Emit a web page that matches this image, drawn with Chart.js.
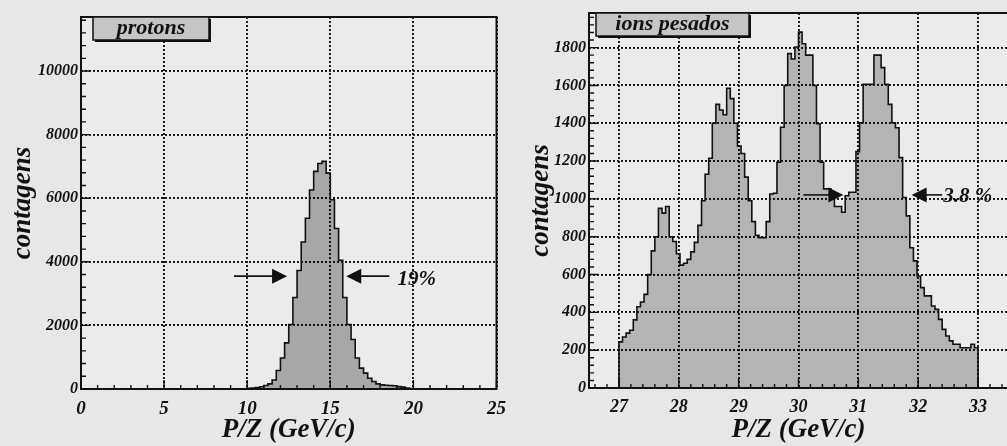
<!DOCTYPE html>
<html>
<head>
 <title>P/Z - protons e ions pesados</title>
 <script src="https://cdn.jsdelivr.net/npm/chart.js"></script>
 <style>
  body { margin: 0; background: #e7e7e7; overflow: hidden; width: 1007px; height: 446px; position: relative; }
  canvas { position: absolute; top: 0; }
  #left { left: 0; }
  #right { left: 503px; }
 </style>
</head>
<body>
 <canvas id="left" width="515" height="446"></canvas>
 <canvas id="right" width="510" height="446"></canvas>

 <script>
  // protons: bins of 0.25 GeV/c starting at 10 GeV/c
  const protonStart = 10;
  const protonBinWidth = 0.25;
  const protonCounts = [
   20, 30, 45, 70, 110, 160, 285, 580, 975, 1450,
   2030, 2880, 3725, 4625, 5370, 6260, 6845, 7090, 7160, 6790,
   5950, 5050, 4050, 2880, 2030, 1555, 975, 655, 500, 340,
   235, 160, 130, 120, 110, 100, 75, 60, 30, 15,
   10, 5, 5, 3
  ];
  const protonXTicks = [0, 5, 10, 15, 20, 25];
  const protonYTicks = [0, 2000, 4000, 6000, 8000, 10000];

  // ions pesados: bins of 0.06 GeV/c from 27 to 33 GeV/c
  const ionStart = 27;
  const ionBinWidth = 0.06;
  const ionCounts = [
   244, 270, 290, 305, 360, 430, 455, 495, 600, 725,
   800, 950, 925, 960, 800, 775, 710, 650, 660, 680,
   720, 770, 860, 990, 1130, 1215, 1400, 1500, 1470, 1445,
   1585, 1530, 1400, 1280, 1240, 1115, 990, 880, 808, 795,
   795, 880, 1026, 1030, 1194, 1379, 1600, 1768, 1740, 1803,
   1882, 1820, 1760, 1760, 1600, 1397, 1194, 1053, 1053, 1035,
   960, 960, 929, 1017, 1035, 1035, 1250, 1403, 1606, 1606,
   1606, 1760, 1760, 1694, 1606, 1500, 1403, 1376, 1218, 1007,
   910, 742, 672, 592, 531, 487, 487, 434, 416, 363,
   310, 275, 249, 231, 231, 213, 213, 213, 231, 213
  ];
  const ionXTicks = [27, 28, 29, 30, 31, 32, 33];
  const ionYTicks = [0, 200, 400, 600, 800, 1000, 1200, 1400, 1600, 1800];

  const serif = 'Liberation Serif';

  // outline of a histogram as step points (left bin edges)
  function histPoints(start, width, counts) {
   const pts = [{x: start, y: 0}];
   counts.forEach((c, i) => pts.push({x: start + i * width, y: c}));
   const end = start + counts.length * width;
   pts.push({x: end, y: counts[counts.length - 1]}, {x: end, y: 0});
   return pts;
  }

  const plotBg = {
   id: 'plotBg',
   beforeDraw(chart) {
    const {ctx, chartArea: a} = chart;
    ctx.save();
    ctx.fillStyle = '#ebebeb';
    ctx.fillRect(a.left, a.top, a.right - a.left, a.bottom - a.top);
    ctx.restore();
   }
  };

  // frame, inward ticks, label box and arrows
  const decor = {
   id: 'decor',
   afterDatasetsDraw(chart, args, o) {
    const {ctx, chartArea: a, scales: {x, y}} = chart;
    ctx.save();
    ctx.strokeStyle = '#111';
    ctx.lineWidth = 1.4;
    ctx.beginPath();
    const ticks = (scale, step, len) => {
     for (let k = Math.ceil(scale.min / step - 1e-6); k * step <= scale.max + 1e-6; k++) {
      const p = scale.getPixelForValue(k * step);
      if (scale.isHorizontal()) { ctx.moveTo(p, a.bottom); ctx.lineTo(p, a.bottom - len); }
      else { ctx.moveTo(a.left, p); ctx.lineTo(a.left + len, p); }
     }
    };
    ticks(x, o.xMinor, 4);
    ticks(y, o.yMinor, 5);
    ticks(x, o.xMajor, 9);
    ticks(y, o.yMajor, 9);
    ctx.stroke();

    ctx.lineWidth = 2;
    ctx.strokeRect(a.left, a.top, a.right - a.left, a.bottom - a.top);

    // label box with shadow
    const bx = a.left + o.box.dx, by = a.top, bw = o.box.w, bh = o.box.h;
    ctx.fillStyle = '#111';
    ctx.fillRect(bx + 2, by + 2, bw, bh);
    ctx.fillStyle = '#c5c5c5';
    ctx.fillRect(bx, by, bw, bh);
    ctx.lineWidth = 1.5;
    ctx.strokeRect(bx, by, bw, bh);
    ctx.fillStyle = '#111';
    ctx.font = 'italic bold 22px "' + serif + '"';
    ctx.textAlign = 'center';
    ctx.textBaseline = 'middle';
    ctx.fillText(o.box.text, bx + bw / 2, by + bh / 2);

    // arrows
    o.arrows.forEach(ar => {
     const x1 = x.getPixelForValue(ar.from), x2 = x.getPixelForValue(ar.to);
     const py = y.getPixelForValue(ar.y);
     const dir = Math.sign(x2 - x1);
     ctx.lineWidth = 1.6;
     ctx.beginPath();
     ctx.moveTo(x1, py);
     ctx.lineTo(x2 - dir * 10, py);
     ctx.stroke();
     ctx.beginPath();
     ctx.moveTo(x2, py);
     ctx.lineTo(x2 - dir * 15, py - 7.5);
     ctx.lineTo(x2 - dir * 15, py + 7.5);
     ctx.closePath();
     ctx.fill();
    });
    ctx.font = 'italic bold 21px "' + serif + '"';
    ctx.textAlign = 'left';
    ctx.fillText(o.note.text, x.getPixelForValue(o.note.x), y.getPixelForValue(o.note.y));
    ctx.restore();
   }
  };

  function makeChart(id, c) {
   const font = size => ({family: serif, size: size, style: 'italic', weight: 'bold'});
   return new Chart(document.getElementById(id), {
    type: 'line',
    data: {
     datasets: [{
      data: histPoints(c.start, c.binWidth, c.counts),
      stepped: true,
      fill: 'origin',
      borderColor: '#111',
      borderWidth: 1.6,
      backgroundColor: c.fill,
      pointRadius: 0
     }]
    },
    options: {
     responsive: false,
     animation: false,
     layout: {padding: c.padding},
     plugins: {
      legend: {display: false},
      tooltip: {enabled: false},
      decor: c.decor
     },
     scales: {
      x: {
       type: 'linear',
       min: c.xMin,
       max: c.xMax,
       afterBuildTicks: s => { s.ticks = c.xTicks.map(v => ({value: v})); },
       afterFit: s => { s.height = c.xHeight; },
       grid: {color: '#111', lineWidth: 1.9, drawTicks: false},
       border: {display: false, dash: [2, 2]},
       ticks: {color: '#111', font: font(c.xTickSize), padding: 9, maxRotation: 0, callback: v => v},
       title: {display: true, text: 'P/Z (GeV/c)', color: '#111', font: font(27), padding: {top: 0, bottom: 0}}
      },
      y: {
       min: 0,
       max: c.yMax,
       afterBuildTicks: s => { s.ticks = c.yTicks.map(v => ({value: v})); },
       afterFit: s => { s.width = c.yWidth; },
       grid: {color: '#111', lineWidth: 1.9, drawTicks: false},
       border: {display: false, dash: [2, 2]},
       ticks: {color: '#111', font: font(16), padding: 3, callback: v => v},
       title: {display: true, text: 'contagens', color: '#111', font: font(27), padding: {top: c.yTitlePad, bottom: 0}}
      }
     }
    },
    plugins: [plotBg, decor]
   });
  }

  makeChart('left', {
   start: protonStart, binWidth: protonBinWidth, counts: protonCounts,
   xTicks: protonXTicks, yTicks: protonYTicks,
   xMin: 0, xMax: 25, yMax: 11700,
   fill: 'rgba(0,0,0,0.29)',
   padding: {left: 0, top: 17, right: 14, bottom: 0},
   xHeight: 57, yWidth: 81, yTitlePad: 7, xTickSize: 19,
   decor: {
    xMinor: 1, xMajor: 5, yMinor: 400, yMajor: 2000,
    box: {text: 'protons', dx: 12, w: 116, h: 23},
    arrows: [{from: 9.2, to: 12.4, y: 3550}, {from: 18.55, to: 15.96, y: 3550}],
    note: {text: '19%', x: 19.05, y: 3430}
   }
  });

  makeChart('right', {
   start: ionStart, binWidth: ionBinWidth, counts: ionCounts,
   xTicks: ionXTicks, yTicks: ionYTicks,
   xMin: 26.5, xMax: 33.5, yMax: 1983,
   fill: 'rgba(0,0,0,0.23)',
   padding: {left: 0, top: 13, right: 5, bottom: 0},
   xHeight: 58, yWidth: 86, yTitlePad: 22, xTickSize: 18,
   decor: {
    xMinor: 0.2, xMajor: 1, yMinor: 40, yMajor: 200,
    box: {text: 'ions pesados', dx: 7, w: 153, h: 23},
    arrows: [{from: 30.08, to: 30.75, y: 1021}, {from: 32.4, to: 31.89, y: 1021}],
    note: {text: '3.8 %', x: 32.42, y: 1010}
   }
  });
 </script>
</body>
</html>
